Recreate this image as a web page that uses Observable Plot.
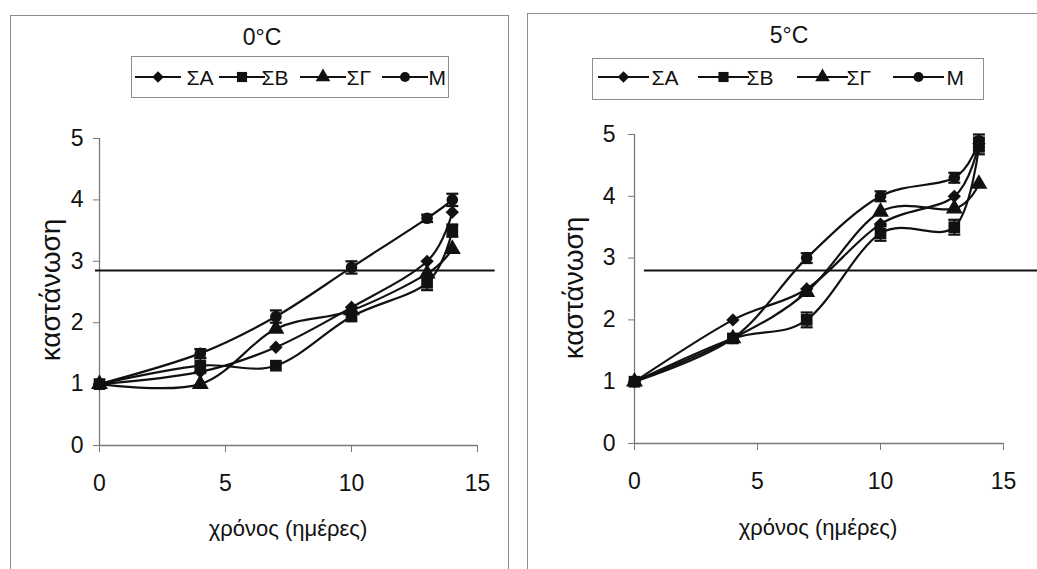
<!DOCTYPE html>
<html>
<head>
<meta charset="utf-8">
<script src="https://cdn.jsdelivr.net/npm/d3@7"></script>
<script src="https://cdn.jsdelivr.net/npm/@observablehq/plot@0.6"></script>
<style>
  html, body { margin: 0; padding: 0; background: #fff; }
  #root { position: relative; width: 1037px; height: 569px; overflow: hidden; background: #fff;
          font-family: "Liberation Sans", Arial, sans-serif; color: #111; }
  .frame { position: absolute; border: 1.5px solid #8c8c8c; box-sizing: border-box; }
  .abs { position: absolute; }
  .ctext { position: absolute; white-space: nowrap; transform: translate(-50%, -50%); line-height: 1; }
  .rtext { position: absolute; white-space: nowrap; transform: translate(-50%, -50%) rotate(-90deg); line-height: 1; }
  .legend { position: absolute; border: 1.5px solid #8c8c8c; box-sizing: border-box; background: #fff; }
  .legend svg { position: absolute; overflow: visible; }
  .legend span { position: absolute; font-size: 21px; line-height: 1; transform: translateY(-50%); }
</style>
</head>
<body>
<div id="root">
  <div class="frame" style="left:10px;top:15px;width:499px;height:620px"></div>
  <div class="frame" style="left:527px;top:13px;width:620px;height:620px"></div>
</div>
<script>
// ---------- data ----------
const days = [0, 4, 7, 10, 13, 14];
const seriesNames = ["ΣΑ", "ΣΒ", "ΣΓ", "Μ"];
const xTicks = [0, 5, 10, 15];
const yTicks = [0, 1, 2, 3, 4, 5];
const titles = ["0°C", "5°C"];
const xLabel = "χρόνος (ημέρες)";
const yLabel = "καστάνωση";

// 0°C
const sa0 = [1.0, 1.2, 1.6, 2.25, 3.0, 3.8];
const sb0 = [1.0, 1.3, 1.3, 2.1, 2.65, 3.5];
const sg0 = [1.0, 1.0, 1.9, 2.2, 2.8, 3.2];
const m0  = [1.0, 1.5, 2.1, 2.9, 3.7, 4.0];
const errSa0 = [0, 0, 0, 0, 0, 0];
const errSb0 = [0, 0.12, 0, 0, 0.12, 0.1];
const errSg0 = [0, 0, 0, 0, 0, 0];
const errM0  = [0, 0.07, 0.1, 0.1, 0.06, 0.1];
const limit0 = 2.85;

// 5°C
const sa5 = [1.0, 2.0, 2.5, 3.55, 4.0, 4.85];
const sb5 = [1.0, 1.7, 2.0, 3.4, 3.5, 4.8];
const sg5 = [1.0, 1.7, 2.45, 3.75, 3.8, 4.2];
const m5  = [1.0, 1.7, 3.0, 4.0, 4.3, 4.9];
const errSa5 = [0, 0, 0, 0, 0, 0.1];
const errSb5 = [0, 0, 0.12, 0.12, 0.12, 0.12];
const errSg5 = [0, 0, 0, 0, 0, 0];
const errM5  = [0, 0, 0.08, 0.08, 0.08, 0.1];
const limit5 = 2.8;

// ---------- styling ----------
const ink = "#111";
const axisGray = "#7a7a7a";
const symbolNames = ["diamond2", "square", "triangle", "circle"];
const d3Symbols = [d3.symbolDiamond2, d3.symbolSquare, d3.symbolTriangle, d3.symbolCircle];
const symbolR = [6.0, 6.6, 6.3, 5.8];
const capSymbol = {
  draw(context, size) {
    const w = Math.sqrt(size / Math.PI);
    context.moveTo(-w, 0);
    context.lineTo(w, 0);
  }
};

function buildRows(valueArrays, errArrays) {
  const rows = [];
  seriesNames.forEach((s, i) => {
    days.forEach((d, j) => rows.push({series: s, day: d, value: valueArrays[i][j], err: errArrays[i][j]}));
  });
  return rows;
}

const panels = [
  {
    values: [sa0, sb0, sg0, m0], errs: [errSa0, errSb0, errSg0, errM0], limit: limit0,
    limitFrom: -0.16, limitTo: 15.7,
    left: 0, width: 518, marginLeft: 99, marginRight: 41, marginTop: 138, marginBottom: 124, yPad: 10,
    title: {x: 262, y: 37},
    legend: {left: 131, top: 56, width: 318, height: 42, lines: [135, 219, 300, 382], lineLen: 46, texts: [188, 263, 348, 430]},
    xl: {x: 288, y: 529}, yl: {x: 51, y: 290}
  },
  {
    values: [sa5, sb5, sg5, m5], errs: [errSa5, errSb5, errSg5, errM5], limit: limit5,
    limitFrom: 0.4, limitTo: 16.6,
    left: 518, width: 519, marginLeft: 116, marginRight: 34, marginTop: 134, marginBottom: 126, yPad: 13,
    title: {x: 789, y: 35},
    legend: {left: 592, top: 58, width: 392, height: 42, lines: [598, 698, 797, 893], lineLen: 51, texts: [653, 748, 848, 948]},
    xl: {x: 818, y: 528}, yl: {x: 574, y: 288}
  }
];

const root = document.getElementById("root");

panels.forEach((p, k) => {
  const rows = buildRows(p.values, p.errs);
  const errRows = rows.filter(d => d.err > 0);

  const marks = [
    Plot.ruleY([0], {stroke: axisGray, strokeWidth: 1.3}),
    Plot.ruleX([0], {stroke: axisGray, strokeWidth: 1.3}),
    Plot.axisX({ticks: xTicks, tickFormat: d => String(d), tickSize: 7, tickPadding: 22, label: null,
                stroke: axisGray, fill: ink, fontSize: 23}),
    Plot.axisY({ticks: yTicks, tickFormat: d => String(d), tickSize: 6, tickPadding: p.yPad, label: null,
                stroke: axisGray, fill: ink, fontSize: 23}),
    Plot.ruleY([p.limit], {x1: p.limitFrom, x2: p.limitTo, stroke: ink, strokeWidth: 2}),
    Plot.line(rows, {x: "day", y: "value", z: "series", curve: "cardinal", stroke: ink, strokeWidth: 2.2}),
    Plot.ruleX(errRows, {x: "day", y1: d => d.value - d.err, y2: d => d.value + d.err, stroke: ink, strokeWidth: 1.8}),
    Plot.dot(errRows, {x: "day", y: d => d.value - d.err, symbol: capSymbol, r: 6, stroke: ink, strokeWidth: 2.2, fill: "none"}),
    Plot.dot(errRows, {x: "day", y: d => d.value + d.err, symbol: capSymbol, r: 6, stroke: ink, strokeWidth: 2.2, fill: "none"})
  ];
  seriesNames.forEach((s, i) => {
    marks.push(Plot.dot(rows.filter(d => d.series === s), {
      x: "day", y: "value", symbol: symbolNames[i], r: symbolR[i], fill: ink, stroke: null
    }));
  });

  const chart = Plot.plot({
    width: p.width, height: 569,
    marginLeft: p.marginLeft, marginRight: p.marginRight, marginTop: p.marginTop, marginBottom: p.marginBottom,
    x: {domain: [0, 15]},
    y: {domain: [0, 5]},
    style: {fontFamily: "'Liberation Sans', Arial, sans-serif", fontSize: "23px", background: "transparent", overflow: "visible"},
    marks
  });
  const holder = document.createElement("div");
  holder.className = "abs";
  holder.style.left = p.left + "px";
  holder.style.top = "0px";
  holder.appendChild(chart);
  root.appendChild(holder);

  // title
  const t = document.createElement("div");
  t.className = "ctext"; t.style.fontSize = "23px";
  t.style.left = p.title.x + "px"; t.style.top = p.title.y + "px";
  t.textContent = titles[k];
  root.appendChild(t);

  // x label
  const xl = document.createElement("div");
  xl.className = "ctext"; xl.style.fontSize = "22px";
  xl.style.left = p.xl.x + "px"; xl.style.top = p.xl.y + "px";
  xl.textContent = xLabel;
  root.appendChild(xl);

  // y label
  const yl = document.createElement("div");
  yl.className = "rtext"; yl.style.fontSize = "28px";
  yl.style.left = p.yl.x + "px"; yl.style.top = p.yl.y + "px";
  yl.textContent = yLabel;
  root.appendChild(yl);

  // legend
  const L = p.legend;
  const box = document.createElement("div");
  box.className = "legend";
  Object.assign(box.style, {left: L.left + "px", top: L.top + "px", width: L.width + "px", height: L.height + "px"});
  const midY = 77 - L.top - 1.5;
  seriesNames.forEach((s, i) => {
    const svg = d3.create("svg")
      .attr("width", L.lineLen).attr("height", 20)
      .style("left", (L.lines[i] - L.left - 1.5) + "px")
      .style("top", (midY - 10) + "px");
    svg.append("line").attr("x1", 0).attr("x2", L.lineLen).attr("y1", 10).attr("y2", 10)
      .attr("stroke", ink).attr("stroke-width", 2.2);
    svg.append("path")
      .attr("transform", `translate(${L.lineLen / 2},10)`)
      .attr("d", d3.symbol(d3Symbols[i], Math.PI * symbolR[i] * symbolR[i] * 0.75)())
      .attr("fill", ink);
    box.appendChild(svg.node());
    const sp = document.createElement("span");
    sp.textContent = s;
    sp.style.left = (L.texts[i] - L.left - 2.5) + "px";
    sp.style.top = midY + "px";
    box.appendChild(sp);
  });
  root.appendChild(box);
});
</script>
</body>
</html>
